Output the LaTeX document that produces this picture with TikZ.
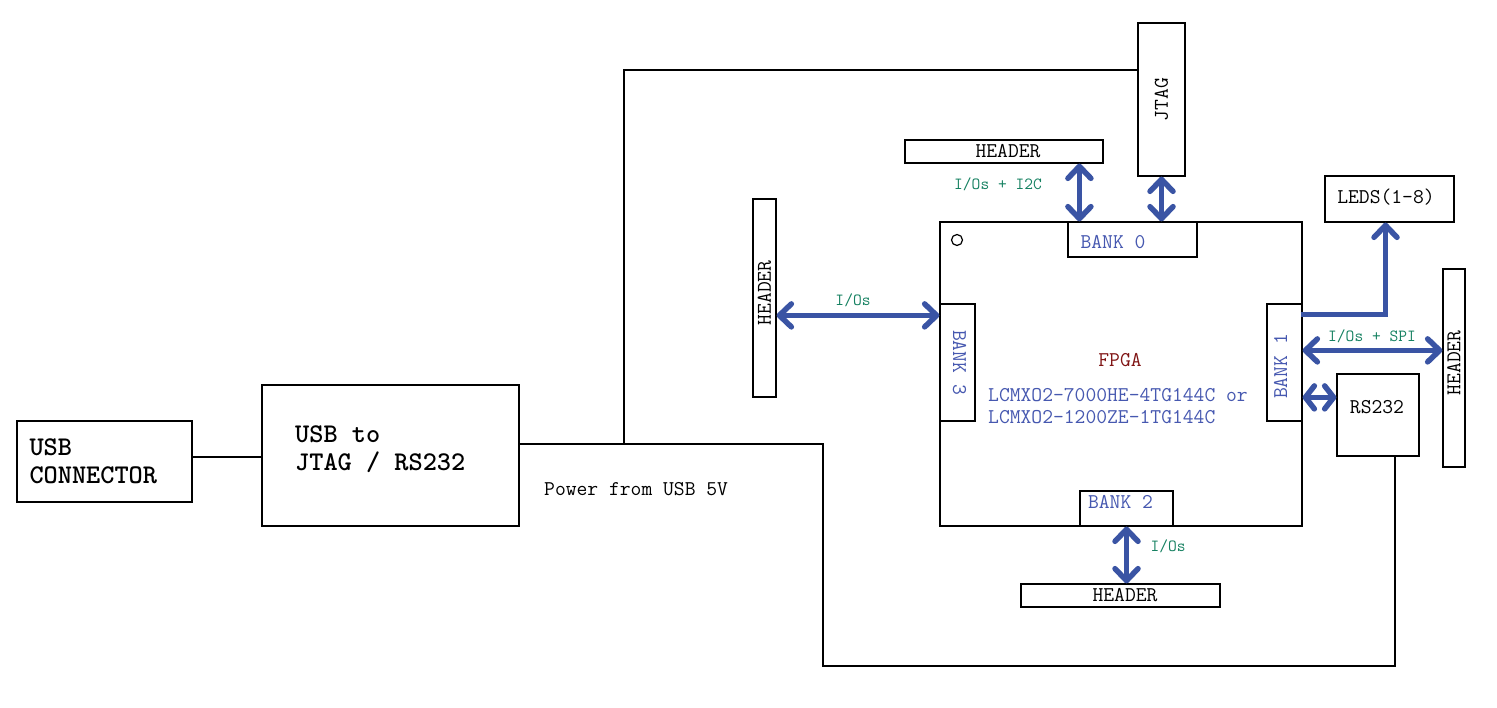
\documentclass[tikz,border=0pt]{standalone}
\usetikzlibrary{arrows.meta,positioning}
\definecolor{busblue}{RGB}{58,84,164}
\definecolor{bankblue}{RGB}{70,88,176}
\definecolor{fpgared}{RGB}{128,20,20}
\definecolor{sigteal}{RGB}{20,128,96}
\tikzset{
  blk/.style={draw,line width=1.2pt,inner sep=0pt,fill=white},
  wire/.style={line width=1.2pt},
  bigtext/.style={font=\ttfamily\bfseries\fontsize{27}{28}\selectfont},
  plaintext/.style={font=\ttfamily\fontsize{21}{22}\selectfont,inner sep=0pt},
  banktext/.style={plaintext,text=bankblue},
  sigtext/.style={font=\ttfamily\fontsize{17}{18}\selectfont,text=sigteal,inner sep=0pt},
  bus/.style={{Straight Barb[length=12pt,width=23pt,round]}-{Straight Barb[length=12pt,width=23pt,round]},
    line width=5.5pt,draw=busblue},
  shortbus/.style={bus,{Straight Barb[length=9pt,width=23pt,round]}-{Straight Barb[length=9pt,width=23pt,round]}},
  busto/.style={-{Straight Barb[length=12pt,width=23pt,round]},line width=5.5pt,draw=busblue}
}

\begin{document}
\begin{tikzpicture}[x=1pt,y=-1pt]
  \useasboundingbox (0,0) rectangle (1497,708);
  % power and jtag wiring
  \node[blk,minimum width=175,minimum height=81,text width=150,align=left,bigtext] (usbc) at (104.5,461.5) {USB\\CONNECTOR};
  \node[blk,minimum width=257,minimum height=141] (usbjtag) at (390.5,455.5) {};
  \node[bigtext,anchor=west,align=left,inner sep=0pt] (usbjtagtxt) at (295,449) {USB to\\JTAG / RS232};
  \node[blk,minimum width=47,minimum height=153] (jtag) at (1161.5,99.5) {};
  \node[plaintext,rotate=90] at (jtag) {JTAG};
  \node[blk,minimum width=82,minimum height=82] (rs232) at (1378,415) {};
  \node[plaintext] at (1377,407) {RS232};
  \coordinate (pwr) at ([yshift=11.5]usbjtag.east);
  \draw[wire] ([yshift=4.5]usbc.east) -- ([yshift=4.5]usbc.east -| usbjtag.west);
  \draw[wire] (pwr) -| (823,666) -| ([xshift=17]rs232.south);
  \draw[wire] (624,444) |- ([yshift=29.5]jtag.west);
  \node[plaintext,anchor=west] (pwrtxt) at (544,489) {Power from USB 5V};

  % fpga and banks
  \node[blk,minimum width=362,minimum height=304] (fpga) at (1121,374) {};
  \draw[wire] (957,240) circle (5.5);
  \node[blk,minimum width=129,minimum height=35] (bank0) at (1132.5,239.5) {};
  \node[banktext,anchor=west] at ([xshift=13,yshift=-3]bank0.west) {BANK 0};
  \node[blk,minimum width=35,minimum height=117] (bank3) at (957.5,362.5) {};
  \node[banktext,rotate=-90] at ([xshift=2]bank3) {BANK 3};
  \node[blk,minimum width=35,minimum height=117] (bank1) at (1284.5,362.5) {};
  \node[banktext,rotate=90] at ([xshift=-4,yshift=-4]bank1) {BANK 1};
  \node[blk,minimum width=93,minimum height=35] (bank2) at (1126.5,508.5) {};
  \node[banktext] at ([xshift=-6,yshift=7]bank2) {BANK 2};
  \node[plaintext,text=fpgared] (fpgatxt) at (1120,360) {FPGA};
  \node[banktext,anchor=west,align=left] (parttxt) at (988,406) {LCMXO2-7000HE-4TG144C or\\LCMXO2-1200ZE-1TG144C};

  % headers and leds
  \node[blk,minimum width=198,minimum height=23] (hdrT) at (1004,151.5) {};
  \node[plaintext] at (1008,151.5) {HEADER};
  \node[blk,minimum width=23,minimum height=198] (hdrL) at (764.5,298) {};
  \node[plaintext,rotate=90] at ([yshift=5]hdrL) {HEADER};
  \node[blk,minimum width=22,minimum height=198] (hdrR) at (1454,368) {};
  \node[plaintext,rotate=90] at ([yshift=5]hdrR) {HEADER};
  \node[blk,minimum width=199,minimum height=23] (hdrB) at (1120.5,595.5) {};
  \node[plaintext] at (1125,595.5) {HEADER};
  \node[blk,minimum width=129,minimum height=46] (leds) at (1389.5,199) {};
  \node[plaintext] at (1386,197) {LEDS(1-8)};

  % buses
  \coordinate (b3pt) at ([yshift=-12]bank3.north west);
  \coordinate (b0pt) at ([xshift=12]bank0.north west);
  \draw[bus] (hdrL.east |- b3pt) -- (b3pt);
  \draw[bus] (b0pt |- hdrT.south) -- (b0pt);
  \draw[bus] (jtag.south) -- (jtag.south |- bank0.north);
  \draw[busto] ([xshift=-2,yshift=-11]bank1.north east) -| ([xshift=-4]leds.south);
  \draw[bus] ([yshift=-47]bank1.north east) -- ([yshift=-47]bank1.north east -| hdrR.west);
  \draw[shortbus] ([yshift=-94]bank1.north east) -- ([yshift=-94]bank1.north east -| rs232.west);
  \draw[bus] (bank2.south) -- (bank2.south |- hdrB.north);
  \node[sigtext] at (853,300) {I/Os};
  \node[sigtext] at (998,184) {I/Os + I2C};
  \node[sigtext] at (1372,336) {I/Os + SPI};
  \node[sigtext] at (1168,546) {I/Os};
\end{tikzpicture}
\end{document}
